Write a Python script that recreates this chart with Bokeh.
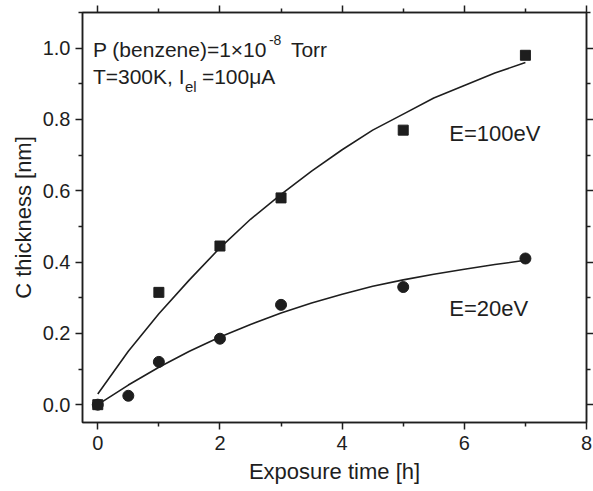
from bokeh.plotting import figure
from bokeh.models import Range1d, FixedTicker, LinearAxis, Label, PrintfTickFormatter
from bokeh.embed import file_html
from bokeh.resources import INLINE

# Measured carbon layer thickness vs. exposure time
t_100 = [0, 1, 2, 3, 5, 7]
c_100 = [0.0, 0.315, 0.445, 0.58, 0.77, 0.98]

t_20 = [0, 0.5, 1, 2, 3, 5, 7]
c_20 = [0.0, 0.025, 0.12, 0.185, 0.28, 0.33, 0.41]

# Fitted growth curves (sampled)
fit_t = [0, 0.5, 1, 1.5, 2, 2.5, 3, 3.5, 4, 4.5, 5, 5.5, 6, 6.5, 7]
fit_100 = [0.03, 0.15, 0.255, 0.35, 0.44, 0.52, 0.59, 0.655, 0.715, 0.77,
           0.815, 0.86, 0.895, 0.93, 0.96]
fit_20 = [0.0, 0.055, 0.105, 0.15, 0.19, 0.225, 0.257, 0.285, 0.31, 0.332,
          0.35, 0.366, 0.38, 0.393, 0.405]

x_major = [0, 2, 4, 6, 8]
x_minor = [1, 3, 5, 7]
y_major = [0.0, 0.2, 0.4, 0.6, 0.8, 1.0]
y_minor = [0.1, 0.3, 0.5, 0.7, 0.9, 1.1]

INK = "#1e1e1e"
FONT = "Liberation Sans"

p = figure(frame_width=504, frame_height=410,
           x_range=Range1d(-0.25, 8.0), y_range=Range1d(-0.05, 1.1),
           output_backend="svg", toolbar_location=None,
           x_axis_label="Exposure time [h]", y_axis_label="C thickness [nm]")
p.min_border_left = 82
p.min_border_right = 7
p.min_border_top = 12
p.min_border_bottom = 69
p.background_fill_color = "white"
p.border_fill_color = "white"
p.grid.visible = False
p.outline_line_color = INK
p.outline_line_width = 1.5

def style_axis(ax, ticks, minor, show_labels):
    ax.ticker = FixedTicker(ticks=ticks, minor_ticks=minor)
    ax.axis_line_color = INK
    ax.axis_line_width = 1.5
    ax.major_tick_line_color = INK
    ax.minor_tick_line_color = INK
    ax.major_tick_line_width = 1.5
    ax.minor_tick_line_width = 1.5
    ax.major_tick_in = 0
    ax.major_tick_out = 7
    ax.minor_tick_in = 0
    ax.minor_tick_out = 4
    ax.major_label_text_font = FONT
    ax.major_label_text_color = INK
    ax.axis_label_text_font = FONT
    ax.axis_label_text_color = INK
    ax.axis_label_text_font_style = "normal"
    ax.axis_label_text_font_size = "22px"
    if show_labels:
        ax.major_label_text_font_size = "20px"
    else:
        # mirror axis: ticks only
        ax.major_label_text_font_size = "1px"
        ax.major_label_text_color = None
        ax.major_label_standoff = 0

xa = p.xaxis[0]
ya = p.yaxis[0]
style_axis(xa, x_major, x_minor, True)
style_axis(ya, y_major, y_minor, True)
xa.major_label_standoff = 6
xa.axis_label_standoff = 6
ya.major_label_standoff = 5
ya.axis_label_standoff = 4
ya.formatter = PrintfTickFormatter(format="%.1f")

top = LinearAxis()
style_axis(top, x_major, x_minor, False)
p.add_layout(top, "above")
right = LinearAxis()
style_axis(right, y_major, y_minor, False)
p.add_layout(right, "right")

# fitted curves
p.line(fit_t, fit_100, line_color=INK, line_width=1.6)
p.line(fit_t, fit_20, line_color=INK, line_width=1.6)

# measurements
p.scatter(t_100, c_100, marker="square", size=10, fill_color=INK, line_color=INK)
p.scatter(t_20, c_20, marker="circle", size=11, fill_color=INK, line_color=INK)

# annotation text
def put(x, y, text, size, dx=0, dy=0):
    p.add_layout(Label(x=x, y=y, x_offset=dx, y_offset=dy, text=text,
                       text_font=FONT, text_font_size=size, text_color=INK,
                       text_align="left", text_baseline="alphabetic"))

ax0, ay0 = -0.08, 0.996
put(ax0, ay0, "P (benzene)=1\u00d710", "21px")
put(ax0, ay0, "-8", "14px", dx=176, dy=10)
put(ax0, ay0, "Torr", "21px", dx=198)
put(ax0, ay0, "T=300K, I", "21px", dy=-26.5)
put(ax0, ay0, "el", "15px", dx=92, dy=-37)
put(ax0, ay0, "=100\u03bcA", "21px", dx=109, dy=-26.5)

put(5.754, 0.761, "E=100eV", "22px")
put(5.754, 0.27, "E=20eV", "22px")

open("out.html", "w").write(file_html(p, INLINE))
